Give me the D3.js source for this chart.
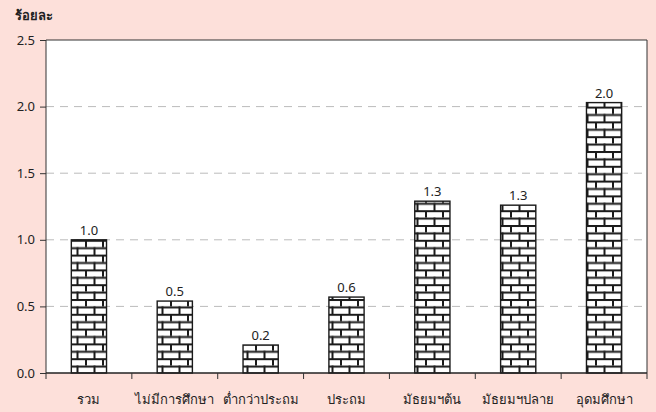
<!DOCTYPE html>
<html><head><meta charset="utf-8">
<script src="https://cdn.jsdelivr.net/npm/d3@7"></script>
<style>
html,body{margin:0;padding:0;background:#fde0da;}
text{font-family:Tahoma,"Noto Sans","DejaVu Sans",sans-serif;fill:#222;}
</style></head>
<body>
<svg id="c" width="656" height="412"></svg>
<script>
const categories = ["รวม","ไม่มีการศึกษา","ต่ำกว่าประถม","ประถม","มัธยมฯต้น","มัธยมฯปลาย","อุดมศึกษา"];
const values = [1.0, 0.54, 0.21, 0.57, 1.29, 1.26, 2.03];
const valueLabels = ["1.0","0.5","0.2","0.6","1.3","1.3","2.0"];
const yTicks = [0, 0.5, 1.0, 1.5, 2.0, 2.5];
const yTitle = "ร้อยละ";

const svg = d3.select("#c");
const W = 656, H = 412;
const m = {l:46, r:9, t:40, b:39};
const x = d3.scaleBand().domain(categories).range([m.l, W-m.r]).paddingInner(0.59).paddingOuter(0.295);
const xb = d3.scaleBand().domain(categories).range([m.l, W-m.r]);
const y = d3.scaleLinear().domain([0,2.5]).range([H-m.b, m.t]);

const defs = svg.append("defs");
const pw = 17, ph = 14.8;
const pat = defs.append("pattern").attr("id","brick").attr("patternUnits","userSpaceOnUse")
  .attr("width",pw).attr("height",ph).attr("x",0).attr("y",H-m.b);
pat.append("rect").attr("width",pw).attr("height",ph).attr("fill","#fff");
const st = "#1a1a1a";
pat.append("rect").attr("x",0).attr("y",0).attr("width",pw).attr("height",2).attr("fill",st);
pat.append("rect").attr("x",0).attr("y",7.4).attr("width",pw).attr("height",2).attr("fill",st);
pat.append("rect").attr("x",0).attr("y",0).attr("width",2).attr("height",7.4).attr("fill",st);
pat.append("rect").attr("x",8.5).attr("y",7.4).attr("width",2).attr("height",7.4).attr("fill",st);

// plot background
svg.append("rect").attr("x",m.l).attr("y",m.t).attr("width",W-m.r-m.l).attr("height",H-m.b-m.t).attr("fill","#fff");

// gridlines
svg.append("g").selectAll("line").data(yTicks.filter(d=>d>0 && d<2.5)).join("line")
  .attr("x1",m.l).attr("x2",W-m.r).attr("y1",d=>y(d)).attr("y2",d=>y(d))
  .attr("stroke","#bbb").attr("stroke-dasharray","8,6");

// bars
svg.append("g").selectAll("rect").data(values).join("rect")
  .attr("x",(d,i)=>x(categories[i])).attr("width",x.bandwidth())
  .attr("y",d=>y(d)).attr("height",d=>y(0)-y(d))
  .attr("fill","url(#brick)").attr("stroke","#1a1a1a").attr("stroke-width",1.4);

// value labels
svg.append("g").selectAll("text").data(values).join("text")
  .attr("x",(d,i)=>x(categories[i])+x.bandwidth()/2).attr("y",d=>y(d)-5)
  .attr("text-anchor","middle").attr("font-size",13).text((d,i)=>valueLabels[i]);

// frame
svg.append("path").attr("d",`M${m.l},${H-m.b}V${m.t}H${W-m.r}V${H-m.b}`).attr("fill","none").attr("stroke","#333").attr("stroke-width",1);

// y axis
const ya = svg.append("g").attr("transform",`translate(${m.l},0)`)
  .call(d3.axisLeft(y).tickValues(yTicks).tickFormat(d3.format(".1f")).tickSize(6).tickPadding(5));
ya.select(".domain").remove();
ya.selectAll("line").attr("stroke","#333");
ya.selectAll("text").attr("font-size",13).attr("fill","#222");

// x axis
const xa = svg.append("g").attr("transform",`translate(0,${H-m.b})`);
xa.append("line").attr("x1",m.l).attr("x2",W-m.r).attr("stroke","#222").attr("stroke-width",1.5);
xa.selectAll(".tk").data(categories.concat(["_end"])).join("line").attr("class","tk")
  .attr("x1",(d,i)=>i<categories.length? xb(d): W-m.r).attr("x2",(d,i)=>i<categories.length? xb(d): W-m.r)
  .attr("y1",0).attr("y2",6).attr("stroke","#333");
xa.selectAll("text").data(categories).join("text")
  .attr("x",d=>x(d)+x.bandwidth()/2).attr("y",31).attr("text-anchor","middle").attr("font-size",13).text(d=>d);

svg.append("text").attr("x",15).attr("y",20).attr("font-size",13).attr("font-weight","bold").text(yTitle);
</script>
</body></html>
